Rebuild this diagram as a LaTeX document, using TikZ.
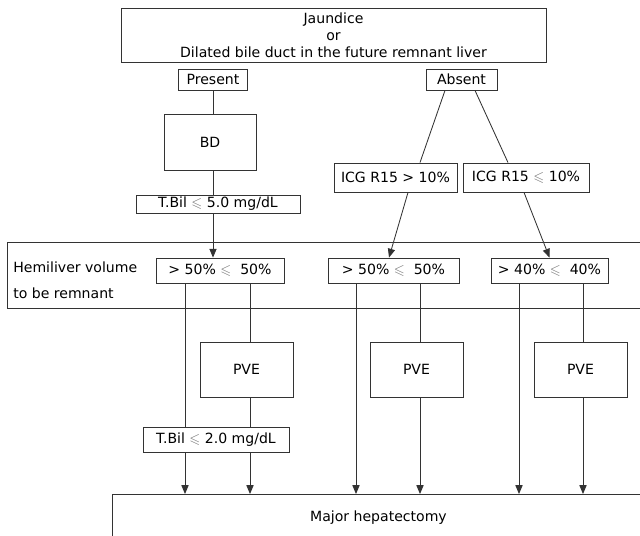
\documentclass[tikz,border=0pt]{standalone}
\usepackage{fontspec}
\setmainfont{DejaVu Sans}
\usepackage{amssymb}
\usetikzlibrary{arrows.meta,calc}
\tikzset{>={Triangle[length=2.2mm,width=1.8mm]},
  box/.style={draw=black!80,line width=0.6pt,inner sep=0pt,font=\fontsize{10}{12}\selectfont},
  link/.style={draw=black!80,line width=0.6pt}}
\newcommand{\lsl}{{\color{black!55}$\leqslant$}}

\begin{document}
\begin{tikzpicture}[x=0.025cm,y=-0.025cm]
      \useasboundingbox (0,0) rectangle (640,535);
      \clip (0,0) rectangle (640,535);

      \node[box,align=center,minimum width=10.625cm,minimum height=1.35cm] (jaund) at (333.5,35)
        {Jaundice\\or\\Dilated bile duct in the future remnant liver};
      \node[box,minimum width=1.71cm,minimum height=0.525cm] (pres) at (213,79.5) {Present};
      \node[box,minimum width=1.775cm,minimum height=0.525cm] (abs) at (461.5,79.5) {Absent};
      \node[box,minimum width=2.3cm,minimum height=1.4cm] (bd) at (210,142) {BD};
      \node[box,minimum width=3.075cm,minimum height=0.725cm] (icgA) at (395.5,177.5) {ICG R15 > 10\%};
      \node[box,minimum width=3.15cm,minimum height=0.725cm] (icgB) at (526,177.5) {ICG R15 \lsl\ 10\%};
      \node[box,minimum width=4.1cm,minimum height=0.45cm] (tb5) at (218,204) {T.Bil \lsl\ 5.0 mg/dL};

      % hemiliver band
      \node[box,anchor=north west,minimum width=16.5cm,minimum height=1.65cm] (hemi) at (7,242) {};
      \node[anchor=base west,align=left,inner sep=0pt,font=\fontsize{10}{17.8}\selectfont] (hemitxt) at (13,298)
        {Hemiliver volume\\to be remnant};
      \node[box,minimum width=3.2cm,minimum height=0.625cm] (v1) at (220,270.5) {> 50\% \lsl\ \ 50\%};
      \node[box,minimum width=3.275cm,minimum height=0.625cm] (v2) at (393.5,270.5) {> 50\% \lsl\ \ 50\%};
      \node[box,minimum width=2.925cm,minimum height=0.625cm] (v3) at (549.5,270.5) {> 40\% \lsl\ \ 40\%};

      \node[box,minimum width=2.325cm,minimum height=1.375cm] (pve1) at (246.5,369.5) {PVE};
      \node[box,minimum width=2.325cm,minimum height=1.375cm] (pve2) at (416.5,369.5) {PVE};
      \node[box,minimum width=2.325cm,minimum height=1.375cm] (pve3) at (580.5,369.5) {PVE};
      \node[box,minimum width=3.65cm,minimum height=0.625cm] (tb2) at (216,439.5) {T.Bil \lsl\ 2.0 mg/dL};

      \node[box,anchor=north west,minimum width=13.3cm,minimum height=1.15cm] (maj) at (112,494) {Major hepatectomy};

      \coordinate (c0) at (213,0);
      \coordinate (c1) at (185,0);
      \coordinate (c2) at (250,0);
      \coordinate (c3) at (356,0);
      \coordinate (c4) at (420,0);
      \coordinate (c5) at (519,0);
      \coordinate (c6) at (583,0);

      \draw[link] (pres.south -| c0) -- (bd.north -| c0);
      \draw[link] (bd.south -| c0) -- (tb5.north -| c0);
      \draw[link,->] (tb5.south -| c0) -- (v1.north -| c0);

      \draw[link] ($(abs.south)+(-16.5,0)$) -- ($(icgA.north)+(24.5,0)$);
      \draw[link] ($(abs.south)+(13.5,0)$) -- ($(icgB.north)+(-18,0)$);
      \draw[link,->] ($(icgA.south)+(12.5,0)$) -- ($(v2.north)+(-4.5,0)$);
      \draw[link,->] ($(icgB.south)+(-2,0)$) -- (v3.north);

      \draw[link] (v1.south -| c1) -- (tb2.north -| c1);
      \draw[link] (v1.south -| c2) -- (pve1.north -| c2);
      \draw[link] (pve1.south -| c2) -- (tb2.north -| c2);
      \draw[link] (v2.south -| c4) -- (pve2.north -| c4);
      \draw[link] (v3.south -| c6) -- (pve3.north -| c6);
      \draw[link,->] (v2.south -| c3) -- (maj.north -| c3);
      \draw[link,->] (v3.south -| c5) -- (maj.north -| c5);
      \foreach \c in {c1,c2} \draw[link,->] (tb2.south -| \c) -- (maj.north -| \c);
      \draw[link,->] (pve2.south -| c4) -- (maj.north -| c4);
      \draw[link,->] (pve3.south -| c6) -- (maj.north -| c6);
\end{tikzpicture}
\end{document}
